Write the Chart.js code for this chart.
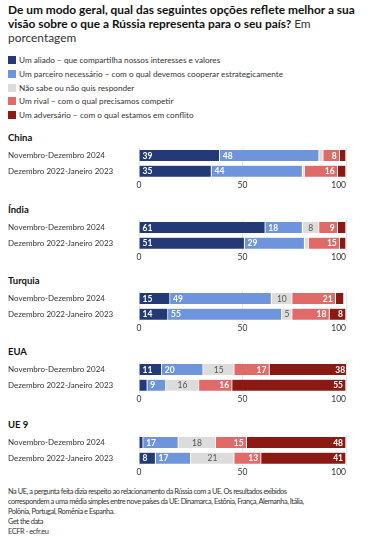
<!DOCTYPE html>
<html>
<head>
<meta charset="utf-8">
<script src="https://cdn.jsdelivr.net/npm/chart.js@4/dist/chart.umd.min.js"></script>
<style>
  html, body { margin: 0; padding: 0; background: #fff; }
  body { width: 376px; height: 540px; position: relative; overflow: hidden; font-family: Lato, 'Open Sans', sans-serif; color: #222; }
  .title { position: absolute; left: 8px; top: 3px; font-size: 11.9px; line-height: 14px; font-weight: 700; color: #111; }
  .title span { font-weight: 400; color: #333; }
  .legend { position: absolute; left: 8px; top: 54px; font-size: 8.2px; color: #333; }
  .legend div { height: 13.8px; line-height: 13.8px; white-space: nowrap; }
  .legend i { display: inline-block; width: 8px; height: 8px; margin-right: 3px; vertical-align: -1px; }
  .grp { position: absolute; left: 8px; font-size: 9.5px; font-weight: 700; color: #111; line-height: 12px; }
  canvas { position: absolute; left: 0; }
  .note { position: absolute; left: 8px; top: 487px; font-size: 7.4px; letter-spacing: -0.45px; line-height: 9.8px; color: #333; white-space: nowrap; }
  .note p { margin: 0; }
</style>
</head>
<body>
<div class="title">De um modo geral, qual das seguintes opções reflete melhor a sua<br>visão sobre o que a Rússia representa para o seu país? <span>Em<br>porcentagem</span></div>
<div class="legend" id="legend"></div>
<div id="charts"></div>
<div class="note">
  <p>Na UE, a pergunta feita dizia respeito ao relacionamento da Rússia com a UE. Os resultados exibidos<br>correspondem a uma média simples entre nove países da UE: Dinamarca, Estônia, França, Alemanha, Itália,<br>Polônia, Portugal, Romênia e Espanha.</p>
  <p style="margin-top:1px">Get the data</p>
  <p>ECFR - ecfr.eu</p>
</div>
<script>
// data
const groups = ['China', 'Índia', 'Turquia', 'EUA', 'UE 9'];
const periods = ['Novembro-Dezembro 2024', 'Dezembro 2022-Janeiro 2023'];
const seriesNames = [
  'Um aliado – que compartilha nossos interesses e valores',
  'Um parceiro necessário – com o qual devemos cooperar estrategicamente',
  'Não sabe ou não quis responder',
  'Um rival – com o qual precisamos competir',
  'Um adversário – com o qual estamos em conflito'
];
const ally      = [[39, 35], [61, 51], [15, 14], [11, 4], [2, 8]];
const partner   = [[48, 44], [18, 29], [49, 55], [20, 9], [17, 17]];
const dontKnow  = [[2, 1], [8, 2], [10, 5], [15, 16], [18, 21]];
const rival     = [[8, 16], [9, 15], [21, 18], [17, 16], [15, 13]];
const adversary = [[3, 4], [4, 3], [4, 8], [38, 55], [48, 41]];
const xTicks = [0, 50, 100];

const colors = ['#233a77', '#6e95dc', '#dcdcdc', '#e06a68', '#8c1a14'];
const labelColors = ['#fff', '#fff', '#555', '#fff', '#fff'];
const labelAlign = ['left', 'left', 'center', 'right', 'right'];
const groupTop = [138, 209.5, 281, 352, 425];

// legend
document.getElementById('legend').innerHTML = seriesNames.map((n, i) =>
  '<div><i style="background:' + colors[i] + '"></i>' + n + '</div>').join('');

const FONT = "Lato, 'Open Sans', sans-serif";

const valueLabels = {
  id: 'valueLabels',
  afterDatasetsDraw(chart) {
    const ctx = chart.ctx;
    ctx.save();
    ctx.textBaseline = 'middle';
    chart.data.datasets.forEach((ds, di) => {
      chart.getDatasetMeta(di).data.forEach((bar, i) => {
        const v = ds.data[i];
        if (v < 5) return;
        const left = Math.min(bar.x, bar.base), right = Math.max(bar.x, bar.base);
        ctx.font = (di === 2 ? '400 ' : '700 ') + '8.5px ' + FONT;
        ctx.fillStyle = labelColors[di];
        ctx.textAlign = labelAlign[di];
        let x = labelAlign[di] === 'left' ? left + 3 : labelAlign[di] === 'right' ? right - 3 : (left + right) / 2;
        ctx.fillText(String(v), x, bar.y + 0.5);
      });
    });
    ctx.restore();
  }
};

const xLabels = {
  id: 'xLabels',
  afterDraw(chart) {
    const ctx = chart.ctx, sc = chart.scales.x;
    ctx.save();
    ctx.font = '8.5px ' + FONT;
    ctx.fillStyle = '#333';
    ctx.textBaseline = 'middle';
    xTicks.forEach((t, i) => {
      ctx.textAlign = i === xTicks.length - 1 ? 'right' : 'center';
      ctx.fillText(String(t), sc.getPixelForValue(t), chart.chartArea.bottom + 6);
    });
    ctx.restore();
  }
};

const series = [ally, partner, dontKnow, rival, adversary];
const chartsEl = document.getElementById('charts');

groups.forEach((g, gi) => {
  const T = groupTop[gi];
  const t = document.createElement('div');
  t.className = 'grp';
  t.style.top = (T - 6) + 'px';
  t.textContent = g;
  chartsEl.appendChild(t);

  const cv = document.createElement('canvas');
  cv.style.top = (T + 5) + 'px';
  cv.style.width = '376px';
  cv.style.height = '50px';
  cv.width = 376; cv.height = 50;
  chartsEl.appendChild(cv);

  new Chart(cv, {
    type: 'bar',
    data: {
      labels: periods,
      datasets: series.map((s, si) => ({
        label: seriesNames[si],
        data: s[gi],
        backgroundColor: colors[si],
        borderColor: '#fff',
        borderWidth: { left: 0, right: 1, top: 0, bottom: 0 },
        borderSkipped: false,
        barThickness: 11
      }))
    },
    options: {
      indexAxis: 'y',
      responsive: false,
      animation: false,
      devicePixelRatio: 1,
      layout: { padding: { left: 8, right: 30, top: 0, bottom: 14 } },
      plugins: { legend: { display: false }, tooltip: { enabled: false } },
      scales: {
        x: {
          stacked: true, min: 0, max: 100,
          ticks: { display: false, stepSize: 50 },
          grid: { color: '#e6e6e6', drawTicks: false },
          border: { display: false }
        },
        y: {
          stacked: true,
          grid: { display: false },
          border: { display: false },
          ticks: { crossAlign: 'far', color: '#333', font: { family: FONT, size: 8 }, padding: 0 },
          afterFit(scale) { scale.width = 131; }
        }
      }
    },
    plugins: [valueLabels, xLabels]
  });
});
</script>
</body>
</html>
